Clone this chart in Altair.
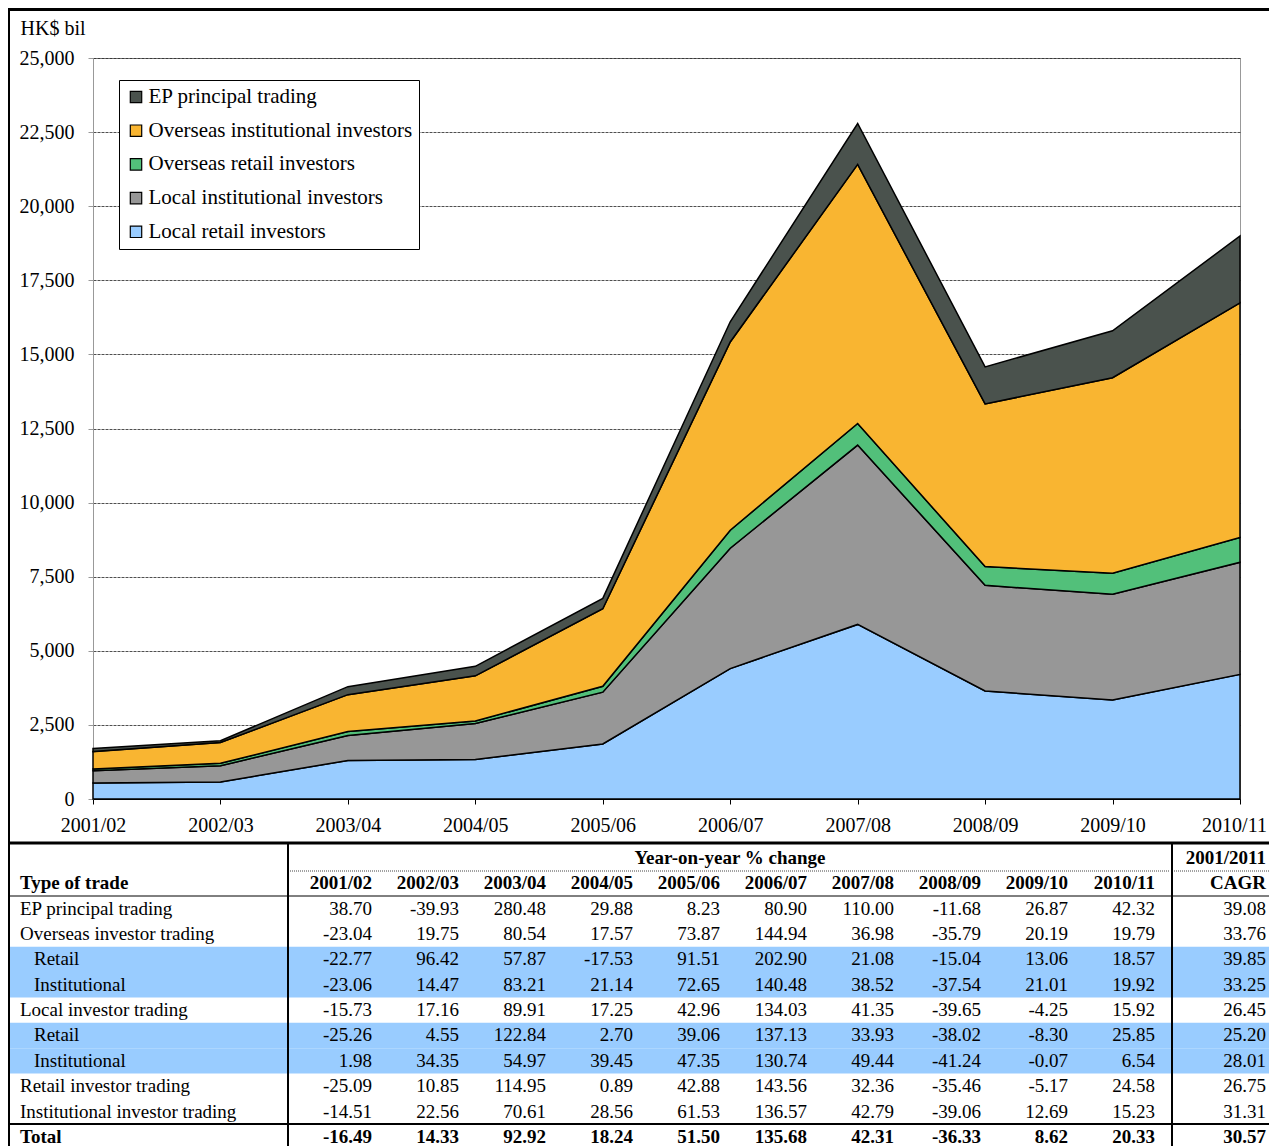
import altair as alt
import pandas as pd

FONT = "Liberation Serif"

# ---------------- chart data ----------------
periods = ["2001/02", "2002/03", "2003/04", "2004/05", "2005/06",
           "2006/07", "2007/08", "2008/09", "2009/10", "2010/11"]

series_names = ["EP principal trading", "Overseas institutional investors",
                "Overseas retail investors", "Local institutional investors",
                "Local retail investors"]
series_colors = ["#4A524D", "#F9B531", "#52C07A", "#979797", "#99CCFF"]

local_retail = [540, 575, 1300, 1335, 1855, 4400, 5890, 3645, 3340, 4205]
local_inst = [415, 545, 845, 1215, 1750, 4060, 6050, 3565, 3565, 3780]
overseas_retail = [60, 85, 130, 80, 200, 610, 730, 630, 710, 840]
overseas_inst = [585, 700, 1245, 1525, 2615, 6350, 8740, 5490, 6600, 7915]
ep_principal = [105, 60, 270, 320, 350, 680, 1380, 1250, 1580, 2255]

# ---------------- table data ----------------
table_labels = ["EP principal trading", "Overseas investor trading", "Retail",
                "Institutional", "Local investor trading", "Retail",
                "Institutional", "Retail investor trading",
                "Institutional investor trading", "Total"]
table_indent = [0, 0, 1, 1, 0, 1, 1, 0, 0, 0]
table_yoy = [
    [38.70, -39.93, 280.48, 29.88, 8.23, 80.90, 110.00, -11.68, 26.87, 42.32],
    [-23.04, 19.75, 80.54, 17.57, 73.87, 144.94, 36.98, -35.79, 20.19, 19.79],
    [-22.77, 96.42, 57.87, -17.53, 91.51, 202.90, 21.08, -15.04, 13.06, 18.57],
    [-23.06, 14.47, 83.21, 21.14, 72.65, 140.48, 38.52, -37.54, 21.01, 19.92],
    [-15.73, 17.16, 89.91, 17.25, 42.96, 134.03, 41.35, -39.65, -4.25, 15.92],
    [-25.26, 4.55, 122.84, 2.70, 39.06, 137.13, 33.93, -38.02, -8.30, 25.85],
    [1.98, 34.35, 54.97, 39.45, 47.35, 130.74, 49.44, -41.24, -0.07, 6.54],
    [-25.09, 10.85, 114.95, 0.89, 42.88, 143.56, 32.36, -35.46, -5.17, 24.58],
    [-14.51, 22.56, 70.61, 28.56, 61.53, 136.57, 42.79, -39.06, 12.69, 15.23],
    [-16.49, 14.33, 92.92, 18.24, 51.50, 135.68, 42.31, -36.33, 8.62, 20.33],
]
table_cagr = [39.08, 33.76, 39.85, 33.25, 26.45, 25.20, 28.01, 26.75, 31.31, 30.57]

# ---------------- build frames ----------------
stack_series = [local_retail, local_inst, overseas_retail, overseas_inst, ep_principal]
stack_names = series_names[::-1]
area_rows = []
for k, (name, vals) in enumerate(zip(stack_names, stack_series)):
    for p, v in zip(periods, vals):
        area_rows.append({"period": p, "series": name, "value": v, "k": k})
area_df = pd.DataFrame(area_rows)

row_keys = ["h1", "h2"] + [f"r{i}" for i in range(len(table_labels))]
col_keys = periods + ["CAGR"]

lab_norm, lab_ind, lab_bold = [], [], []
num_norm, num_bold, cagr_norm, cagr_bold = [], [], [], []
for i, lab in enumerate(table_labels):
    rk = f"r{i}"
    bold = lab == "Total"
    if bold:
        lab_bold.append({"rk": rk, "txt": lab})
    elif table_indent[i]:
        lab_ind.append({"rk": rk, "txt": lab})
    else:
        lab_norm.append({"rk": rk, "txt": lab})
    for p, v in zip(periods, table_yoy[i]):
        (num_bold if bold else num_norm).append({"rk": rk, "ck": p, "txt": f"{v:.2f}"})
    (cagr_bold if bold else cagr_norm).append({"rk": rk, "ck": "CAGR", "txt": f"{table_cagr[i]:.2f}"})

lab_bold.append({"rk": "h2", "txt": "Type of trade"})
for p in periods:
    num_bold.append({"rk": "h2", "ck": p, "txt": p})
cagr_bold.append({"rk": "h2", "ck": "CAGR", "txt": "CAGR"})
cagr_bold.append({"rk": "h1", "ck": "CAGR", "txt": "2001/2011"})
span_head = [{"rk": "h1", "ck": "2005/06", "txt": "Year-on-year % change"}]
bands = [{"rk": f"r{i}"} for i in range(len(table_labels)) if table_indent[i]]

# ---------------- chart ----------------
W, H = 1147, 741

area = alt.Chart(area_df).mark_area(stroke="black", strokeWidth=1.5, opacity=1).encode(
    x=alt.X("period:O", sort=periods, scale=alt.Scale(type="point", padding=0),
            axis=alt.Axis(title=None, labelAngle=0, labelFont=FONT, labelFontSize=20,
                          labelColor="black", domainColor="black", tickColor="black",
                          tickSize=5, labelPadding=11, labelOverlap=False, grid=False,
                          labelOffset={"expr": "datum.label == '2010/11' ? -6 : 0"})),
    y=alt.Y("value:Q", stack="zero", scale=alt.Scale(domain=[0, 25000], nice=False),
            axis=alt.Axis(values=list(range(0, 25001, 2500)), format=",d",
                          title="HK$ bil", titleAngle=0, titleX=-73, titleY=-24,
                          titleAlign="left", titleBaseline="alphabetic", titleFont=FONT,
                          titleFontSize=20, titleFontWeight="normal", titleColor="black",
                          labelFont=FONT, labelFontSize=20, labelColor="black",
                          labelPadding=14, tickSize=5, tickColor="#999", domainColor="#999",
                          grid=True, gridColor="#222", gridDash=[3, 1], gridWidth=0.8)),
    color=alt.Color("series:N", scale=alt.Scale(domain=series_names, range=series_colors),
                    legend=alt.Legend(title=None, orient="none", legendX=26, legendY=22,
                                      direction="vertical", symbolType="square",
                                      symbolSize=130, symbolStrokeColor="black",
                                      symbolStrokeWidth=1.2, symbolOpacity=1,
                                      labelFont=FONT, labelFontSize=21, labelColor="black",
                                      labelLimit=0,
                                      fillColor="white", strokeColor="black", padding=6.5,
                                      rowPadding=11.7, labelOffset=2)),
    order=alt.Order("k:Q", sort="ascending"),
)

xcol = alt.X("ck:N", scale=alt.Scale(type="point", domain=col_keys, range=[279, 1149], padding=0), axis=None)
yrow = alt.Y("rk:N", scale=alt.Scale(type="band", domain=row_keys, range=[787.3, 1091.6],
                                     paddingInner=0, paddingOuter=0), axis=None)

one = alt.Data(values=[{"a": 1}])

def hrule(y, x1, x2, w, dash=None, color="black"):
    kw = dict(color=color, strokeWidth=w)
    if dash:
        kw["strokeDash"] = dash
    return alt.Chart(one).mark_rule(**kw).encode(
        x=alt.value(x1), x2=alt.value(x2), y=alt.value(y))

def vrule(x, y1, y2, w):
    return alt.Chart(one).mark_rule(color="black", strokeWidth=w).encode(
        x=alt.value(x), y=alt.value(y1), y2=alt.value(y2))

band_layer = alt.Chart(pd.DataFrame(bands)).mark_rect(color="#99CCFF").encode(
    x=alt.value(-85), x2=alt.value(1190), y=yrow)

txt_kw = dict(font=FONT, fontSize=19, color="black", baseline="middle")

t_lab_norm = alt.Chart(pd.DataFrame(lab_norm)).mark_text(align="left", **txt_kw).encode(
    x=alt.value(-73), y=yrow, text="txt:N")
t_lab_ind = alt.Chart(pd.DataFrame(lab_ind)).mark_text(align="left", dx=14, **txt_kw).encode(
    x=alt.value(-73), y=yrow, text="txt:N")
t_lab_bold = alt.Chart(pd.DataFrame(lab_bold)).mark_text(align="left", fontWeight="bold", **txt_kw).encode(
    x=alt.value(-73), y=yrow, text="txt:N")
t_num = alt.Chart(pd.DataFrame(num_norm)).mark_text(align="right", **txt_kw).encode(
    x=xcol, y=yrow, text="txt:N")
t_num_b = alt.Chart(pd.DataFrame(num_bold)).mark_text(align="right", fontWeight="bold", **txt_kw).encode(
    x=xcol, y=yrow, text="txt:N")
t_cagr = alt.Chart(pd.DataFrame(cagr_norm)).mark_text(align="right", dx=24, **txt_kw).encode(
    x=xcol, y=yrow, text="txt:N")
t_cagr_b = alt.Chart(pd.DataFrame(cagr_bold)).mark_text(align="right", dx=24, fontWeight="bold", **txt_kw).encode(
    x=xcol, y=yrow, text="txt:N")
t_span = alt.Chart(pd.DataFrame(span_head)).mark_text(align="center", dx=10, fontWeight="bold", **txt_kw).encode(
    x=xcol, y=yrow, text="txt:N")

rules = [
    hrule(-48.5, -85, 1190, 3),          # line under title strip
    vrule(-84, -50, 1100, 2),            # left frame
    hrule(785, -85, 1190, 3),            # chart / table separator
    vrule(195, 785, 1100, 2),            # label column separator
    vrule(1079, 785, 1100, 2),           # CAGR separator
    hrule(813, 197, 1077, 1, [1, 1], "#444"),
    hrule(813, 1081, 1190, 1, [1, 1], "#444"),
    hrule(838, -85, 1190, 1),            # under header
    hrule(1066, -85, 1190, 2),           # above total
]

table = alt.layer(band_layer, *rules, t_lab_norm, t_lab_ind, t_lab_bold,
                  t_num, t_num_b, t_cagr, t_cagr_b, t_span)

chart = alt.layer(area, table).resolve_scale(
    x="independent", y="independent"
).properties(
    width=W, height=H,
    autosize=alt.AutoSizeParams(type="none"),
    padding={"left": 85, "top": 50, "right": 29, "bottom": 347},
    background="white",
).configure_view(stroke="#999", strokeWidth=1)

chart.save("out.html", embed_options={"renderer": "svg", "actions": False})
